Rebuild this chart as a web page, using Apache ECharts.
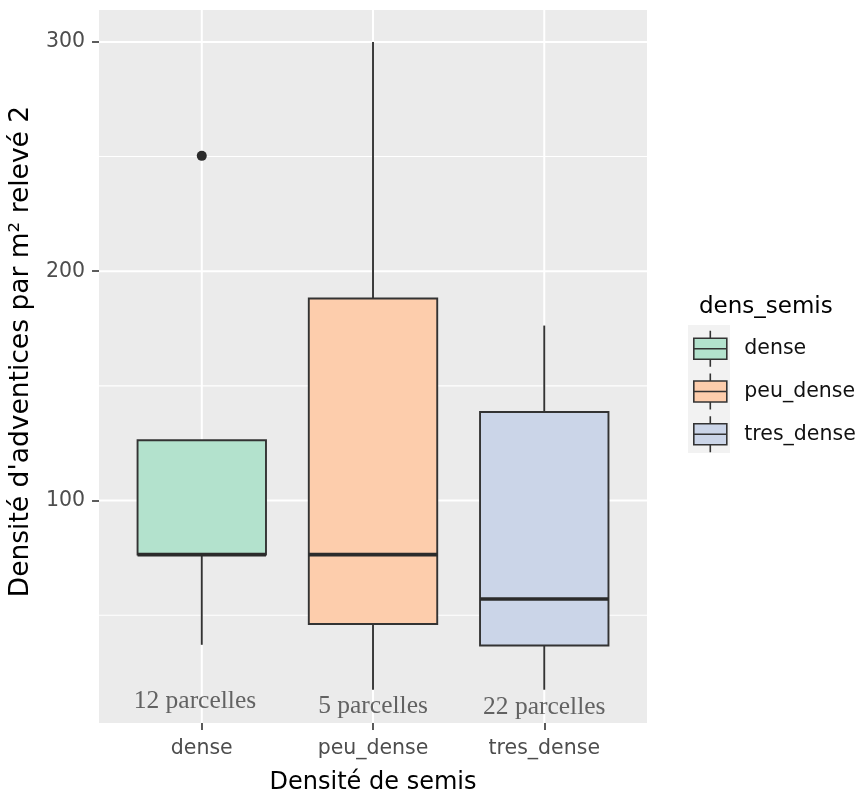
<!DOCTYPE html>
<html>
<head>
<meta charset="utf-8">
<script src="https://cdn.jsdelivr.net/npm/echarts@6/dist/echarts.min.js"></script>
<style>
html,body{margin:0;padding:0;background:#fff;}
#chart{width:864px;height:800px;}
</style>
</head>
<body>
<div id="chart"></div>
<script>
// ---- data ----
const categories = ['dense', 'peu_dense', 'tres_dense'];
const lowWhisker = [37.1, 17.5, 17.5];
const q1 = [76.4, 46.2, 36.8];
const median = [76.4, 76.4, 57.1];
const q3 = [126.3, 188.1, 138.6];
const highWhisker = [126.3, 300, 176.3];
const outlierCategory = [1];
const outlierValue = [250.3];
const yTickLabels = [100, 200, 300];
const yMinorTicks = [50, 150, 250];
const xTickPositions = [1, 2, 3];
const annotationText = ['12 parcelles', '5 parcelles', '22 parcelles'];
const annotationX = [0.96, 2.0, 3.0];
const annotationY = [12.3, 10.4, 9.9];

const fills = ['#B3E2CD', '#FDCDAC', '#CBD5E8'];
const FONT = 'DejaVu Sans';

function renderBox(params, api) {
  const x = api.value(0);
  const half = 0.375;
  const pLow = api.coord([x, api.value(1)]);
  const pQ1 = api.coord([x, api.value(2)]);
  const pMed = api.coord([x, api.value(3)]);
  const pQ3 = api.coord([x, api.value(4)]);
  const pHigh = api.coord([x, api.value(5)]);
  const left = api.coord([x - half, 100])[0];
  const right = api.coord([x + half, 100])[0];
  const fill = api.visual('color');
  const lineStyle = { stroke: '#333333', lineWidth: 1.9 };
  const children = [];
  if (Math.abs(pLow[1] - pQ1[1]) > 0.5) {
    children.push({ type: 'line', shape: { x1: pQ1[0], y1: pQ1[1], x2: pLow[0], y2: pLow[1] }, style: lineStyle });
  }
  if (Math.abs(pHigh[1] - pQ3[1]) > 0.5) {
    children.push({ type: 'line', shape: { x1: pQ3[0], y1: pQ3[1], x2: pHigh[0], y2: pHigh[1] }, style: lineStyle });
  }
  children.push({
    type: 'rect',
    shape: { x: left, y: pQ3[1], width: right - left, height: pQ1[1] - pQ3[1] },
    style: { fill: fill, stroke: '#333333', lineWidth: 1.9 }
  });
  children.push({
    type: 'line',
    shape: { x1: left, y1: pMed[1], x2: right, y2: pMed[1] },
    style: { stroke: '#2b2b2b', lineWidth: 3.6 }
  });
  return { type: 'group', children: children };
}

function renderHGrid(width) {
  return function (params, api) {
    const cs = params.coordSys;
    const y = api.coord([1, api.value(1)])[1];
    return { type: 'line', shape: { x1: cs.x, y1: y, x2: cs.x + cs.width, y2: y },
      style: { stroke: '#FFFFFF', lineWidth: width } };
  };
}
function renderVGrid(width) {
  return function (params, api) {
    const cs = params.coordSys;
    const x = api.coord([api.value(0), 100])[0];
    return { type: 'line', shape: { x1: x, y1: cs.y, x2: x, y2: cs.y + cs.height },
      style: { stroke: '#FFFFFF', lineWidth: width } };
  };
}

const boxIcon = 'path://M17,0 L17,7.5 M0.5,7.5 L33.5,7.5 L33.5,28.5 L0.5,28.5 Z M0.5,18 L33.5,18 M17,28.5 L17,36';

const series = [
  { type: 'custom', name: '_gmin', silent: true, z: 1, renderItem: renderHGrid(1.1),
    encode: { x: 0, y: 1 }, data: yMinorTicks.map(v => [1, v]) },
  { type: 'custom', name: '_gmaj', silent: true, z: 1, renderItem: renderHGrid(2),
    encode: { x: 0, y: 1 }, data: yTickLabels.map(v => [1, v]) },
  { type: 'custom', name: '_gx', silent: true, z: 1, renderItem: renderVGrid(2),
    encode: { x: 0, y: 1 }, data: xTickPositions.map(v => [v, 100]) }
];

categories.forEach((c, i) => {
  series.push({
    type: 'custom',
    name: c,
    z: 3,
    itemStyle: { color: fills[i], borderColor: '#333333', borderWidth: 1.5 },
    renderItem: renderBox,
    encode: { x: 0, y: [1, 2, 3, 4, 5] },
    data: [[i + 1, lowWhisker[i], q1[i], median[i], q3[i], highWhisker[i]]]
  });
});

series.push({
  type: 'scatter', name: '_out', z: 4, symbol: 'circle', symbolSize: 10,
  itemStyle: { color: '#2b2b2b', opacity: 1 },
  data: outlierCategory.map((c, i) => [c, outlierValue[i]])
});

series.push({
  type: 'scatter', name: '_ann', z: 5, symbolSize: 0, silent: true,
  data: annotationText.map((t, i) => ({ value: [annotationX[i], annotationY[i]], name: t })),
  label: {
    show: true, position: 'inside', formatter: p => p.name,
    fontFamily: 'Liberation Serif', fontSize: 25.5, color: '#404040'
  }
});

const chart = echarts.init(document.getElementById('chart'), null, { renderer: 'canvas' });
chart.setOption({
  animation: false,
  backgroundColor: '#FFFFFF',
  textStyle: { fontFamily: FONT },
  grid: { left: 95, right: 217, top: 10, bottom: 73, show: true, backgroundColor: '#EBEBEB', borderWidth: 0 },
  title: {
    text: 'dens_semis', left: 694, top: 291,
    textStyle: { fontFamily: FONT, fontSize: 23, fontWeight: 'normal', color: '#000000' }
  },
  graphic: [
    { type: 'rect', z: 0, shape: { x: 688, y: 325, width: 42, height: 128 }, style: { fill: '#F2F2F2' } }
  ],
  legend: {
    orient: 'vertical', left: 688, top: 325,
    itemWidth: 34, itemHeight: 36, itemGap: 5.1,
    selectedMode: false,
    textStyle: { fontFamily: FONT, fontSize: 20.5, color: '#111111', padding: [0, 0, 0, 12] },
    data: categories.map((c, i) => ({
      name: c, icon: boxIcon,
      itemStyle: { color: fills[i], borderColor: '#333333', borderWidth: 1.6 }
    }))
  },
  xAxis: {
    type: 'value', min: 0.4, max: 3.6,
    name: 'Densité de semis', nameLocation: 'middle', nameGap: 48,
    nameTextStyle: { fontFamily: FONT, fontSize: 24, color: '#000000' },
    axisLine: { show: false },
    splitLine: { show: false },
    axisTick: { show: true, length: 7, customValues: xTickPositions, lineStyle: { color: '#333333', width: 1.6 } },
    axisLabel: {
      show: true, margin: 15, customValues: xTickPositions,
      formatter: v => categories[Math.round(v) - 1] || '',
      fontFamily: FONT, fontSize: 20.5, color: '#4D4D4D'
    }
  },
  yAxis: {
    type: 'value', min: 3.0, max: 313.9,
    name: "Densité d'adventices par m² relevé 2", nameLocation: 'middle', nameGap: 58,
    nameTextStyle: { fontFamily: FONT, fontSize: 26.5, color: '#000000', padding: [0, 0, 0, 30] },
    axisLine: { show: false },
    splitLine: { show: false },
    axisTick: { show: true, length: 7, customValues: yTickLabels, lineStyle: { color: '#333333', width: 1.6 } },
    axisLabel: {
      show: true, margin: 14, customValues: yTickLabels,
      fontFamily: FONT, fontSize: 20.5, color: '#4D4D4D'
    }
  },
  series: series
});
</script>
</body>
</html>
